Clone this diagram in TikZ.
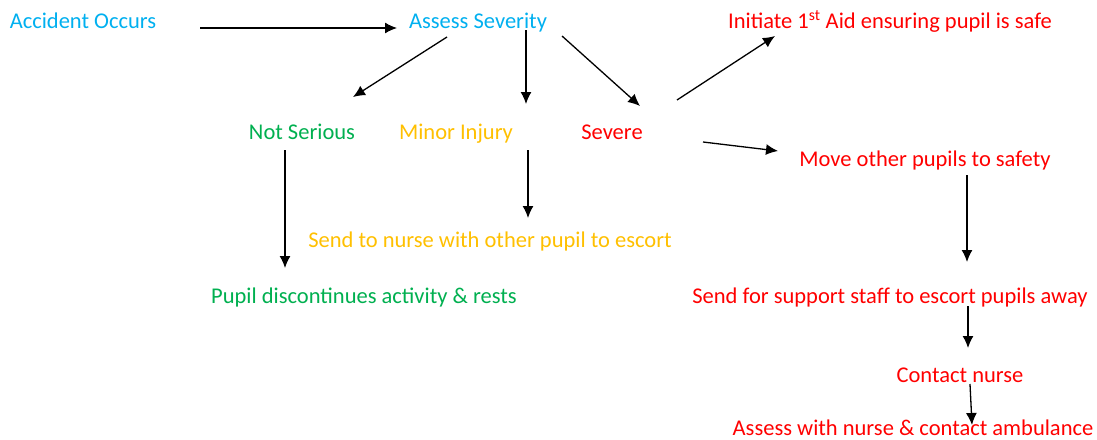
\documentclass[tikz,border=0pt]{standalone}
\usepackage{fontspec}
\setmainfont{Carlito}
\usetikzlibrary{arrows.meta,calc}
\definecolor{cblue}{HTML}{00B0F0}
\definecolor{cgreen}{HTML}{00B050}
\definecolor{corange}{HTML}{FFC000}
\definecolor{cred}{HTML}{FF0000}
\begin{document}
\begin{tikzpicture}[x=1pt,y=-1pt,
  lbl/.style={inner sep=0pt,anchor=center,text height=15pt,text depth=1pt,font=\fontsize{22.5}{26}\selectfont},
  arr/.style={-{Latex[length=12pt,width=11pt]},line width=1.3pt,black}]
\useasboundingbox[fill=white] (0,0) rectangle (1097,439);
\node[lbl,text=cblue] (acc) at (83,21) {Accident Occurs};
\node[lbl,text=cblue] (ass) at (478,21) {Assess Severity};
\node[lbl,text=cred] (ini) at (890,21) {Initiate 1\textsuperscript{st} Aid ensuring pupil is safe};
\node[lbl,text=cgreen] (ns) at (302,132) {Not Serious};
\node[lbl,text=corange] (mi) at (456,132) {Minor Injury};
\node[lbl,text=cred] (sev) at (612,132) {Severe};
\node[lbl,text=cred] (mv) at (925,159) {Move other pupils to safety};
\node[lbl,text=corange] (sn) at (490,240) {Send to nurse with other pupil to escort};
\node[lbl,text=cgreen] (pd) at (364,296) {Pupil discontinues activity \& rests};
\node[lbl,text=cred] (ss) at (890,296) {Send for support staff to escort pupils away};
\node[lbl,text=cred] (cn) at (960,375) {Contact nurse};
\node[lbl,text=cred] (aw) at (913,428) {Assess with nurse \& contact ambulance};

\draw[arr] ($(acc.center)+(117,7)$) -- ($(ass.center)+(-81,7)$);
\draw[arr] ($(ass.center)+(-31,16)$) -- ($(ns.center)+(51,-35)$);
\draw[arr] ($(ass.center)+(48,9)$) -- ($(mi.center)+(70,-28)$);
\draw[arr] ($(ass.center)+(84,15)$) -- ($(sev.center)+(28,-26)$);
\draw[arr] ($(sev.center)+(65,-32)$) -- ($(ini.center)+(-115,15)$);
\draw[arr] ($(sev.center)+(91,10)$) -- ($(mv.center)+(-147,-8)$);
\draw[arr] ($(ns.center)+(-17,18)$) -- ($(pd.center)+(-79,-28)$);
\draw[arr] ($(mi.center)+(72,18)$) -- ($(sn.center)+(38,-22)$);
\draw[arr] ($(mv.center)+(42,16)$) -- ($(ss.center)+(77,-34)$);
\draw[arr] ($(ss.center)+(78,10)$) -- ($(cn.center)+(8,-27)$);
\draw[arr] ($(cn.center)+(10,9)$) -- ($(aw.center)+(59,-3)$);
\end{tikzpicture}
\end{document}
